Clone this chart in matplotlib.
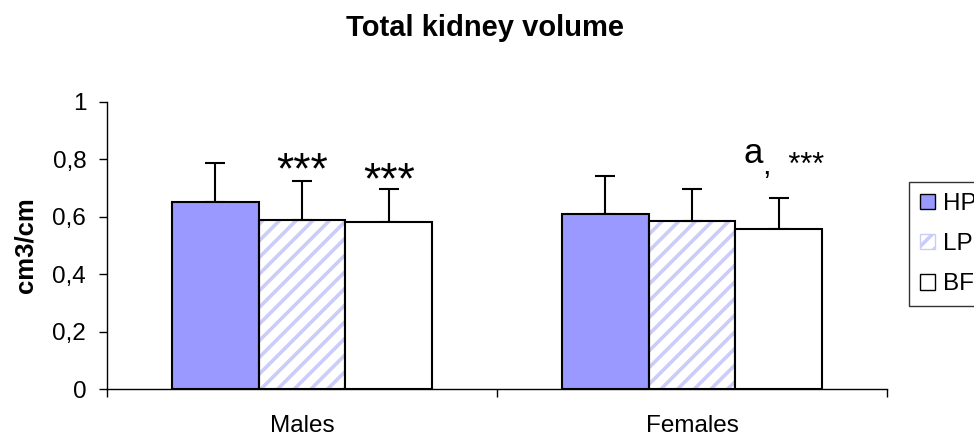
import matplotlib
matplotlib.use('Agg')
import matplotlib.pyplot as plt
import matplotlib.patches as mpatches
from matplotlib.ticker import FuncFormatter
import numpy as np

plt.rcParams['font.family'] = ['Liberation Sans', 'DejaVu Sans']
plt.rcParams['hatch.linewidth'] = 2.6

groups = ['Males', 'Females']
series = ['HP', 'LP', 'BF']
means = {
    'HP': [0.652, 0.610],
    'LP': [0.589, 0.585],
    'BF': [0.582, 0.557],
}
errors = {
    'HP': [0.136, 0.132],
    'LP': [0.136, 0.112],
    'BF': [0.115, 0.108],
}
yticks = [0, 0.2, 0.4, 0.6, 0.8, 1.0]

fig = plt.figure(figsize=(9.74, 4.42), dpi=100)
ax = fig.add_axes([107 / 974, 1 - 389 / 442, 780 / 974, 287 / 442])

x = np.arange(len(groups))
width = 2 / 9
fill = {'HP': '#9999FF', 'LP': 'white', 'BF': 'white'}

for k, name in enumerate(series):
    pos = x + (k - 1) * width
    if name == 'LP':
        # light diagonal stripes, then a black outline on top
        ax.bar(pos, means[name], width, color='white', edgecolor='#CCCCFA',
               hatch='//', linewidth=0, zorder=2)
        ax.bar(pos, means[name], width, fill=False, edgecolor='black',
               linewidth=1.5, zorder=3)
    else:
        ax.bar(pos, means[name], width, color=fill[name], edgecolor='black',
               linewidth=1.5, zorder=3)
    ax.errorbar(pos, means[name], yerr=[np.zeros(len(groups)), errors[name]],
                fmt='none', ecolor='black', elinewidth=1.5, capsize=7.5,
                capthick=1.5, zorder=2)

# significance marks
ax.text(0, 0.717, '***', ha='center', va='baseline', fontsize=32)
ax.text(width, 0.682, '***', ha='center', va='baseline', fontsize=32)
ax.text(1.156, 0.787, 'a', ha='center', va='baseline', fontsize=25)
ax.text(1.181, 0.748, ',  ***', ha='left', va='baseline', fontsize=22)

ax.set_xlim(-0.5, 1.5)
ax.set_ylim(0, 1)
ax.set_yticks(yticks)
ax.yaxis.set_major_formatter(FuncFormatter(lambda v, p: ('%g' % v).replace('.', ',')))
ax.set_xticks(x)
ax.set_xticklabels(groups)
ax.set_xticks([-0.5, 0.5, 1.5], minor=True)
ax.tick_params(axis='x', which='major', length=0, pad=19, labelsize=17.5)
ax.tick_params(axis='x', which='minor', length=6, direction='out', width=1)
ax.tick_params(axis='y', length=6, direction='out', width=1, pad=9, labelsize=17.5)

for s in ['top', 'right']:
    ax.spines[s].set_visible(False)
for s in ['left', 'bottom']:
    ax.spines[s].set_linewidth(1)
    ax.spines[s].set_color('black')

fig.text(0.498, 1 - 28 / 442, 'Total kidney volume', ha='center', va='center',
         fontsize=21, fontweight='bold')
fig.text(25 / 974, 0.446, 'cm3/cm', ha='center', va='center', rotation=90,
         fontsize=18.5, fontweight='bold')

handles = [
    mpatches.Patch(facecolor='#9999FF', edgecolor='black', label='HP'),
    mpatches.Patch(facecolor='white', edgecolor='#CCCCFA', hatch='//', label='LP'),
    mpatches.Patch(facecolor='white', edgecolor='black', label='BF'),
]
leg = fig.legend(handles=handles, loc='upper left',
                 bbox_to_anchor=(909 / 974, 1 - 182 / 442), fontsize=17.5,
                 frameon=True, fancybox=False, borderaxespad=0,
                 handlelength=0.6, handleheight=0.6, handletextpad=0.35,
                 labelspacing=0.75, borderpad=0.45)
leg.get_frame().set_edgecolor('black')
leg.get_frame().set_linewidth(1)

fig.savefig('out.png', dpi=100)
